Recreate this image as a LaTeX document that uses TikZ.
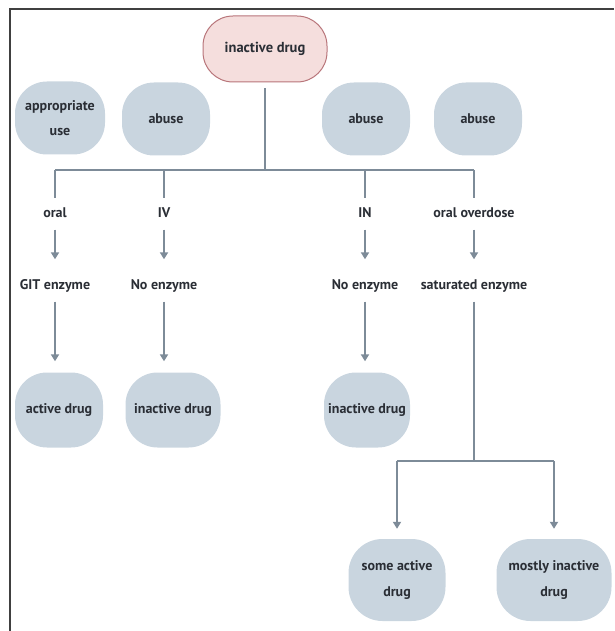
\documentclass[tikz,border=0pt]{standalone}
\usepackage{fontspec}
\setmainfont{PT Sans}
\usetikzlibrary{arrows.meta}

\definecolor{nodegray}{HTML}{C9D5DF}
\definecolor{linegray}{HTML}{7D8B98}
\definecolor{inkdark}{HTML}{2A2E35}
\definecolor{pinkfill}{HTML}{F5DEDD}
\definecolor{pinkline}{HTML}{B8757A}

\tikzset{
    drug/.style={rectangle, rounded corners=32pt, fill=nodegray, text=inkdark,
        minimum width=88pt, minimum height=74pt, align=center,
        font=\bfseries\fontsize{14}{25}\selectfont},
    route/.style={text=inkdark, inner xsep=2pt, inner ysep=9pt,
        text height=10pt, text depth=3pt,
        font=\bfseries\fontsize{14}{16}\selectfont},
    link/.style={draw=linegray, line width=2.6pt},
    arr/.style={link, -{Triangle[length=7pt,width=8pt]}, shorten >=11pt},
}

\begin{document}
\begin{tikzpicture}[x=1pt, y=-1pt]
    \useasboundingbox (0,0) rectangle (614,631);
    \pgfmathsetmacro\splitY{170};
    \pgfmathsetmacro\rowA{214};
    \pgfmathsetmacro\rowB{286};

    % frame
    \draw[black!75, line width=1.5pt] (10,631) -- (10,9) -- (614,9);

    % top
    \node[drug, fill=pinkfill, draw=pinkline, line width=1pt,
        minimum width=124pt, minimum height=66pt, rounded corners=30pt,
        font=\bfseries\fontsize{14.5}{16}\selectfont] (top) at (265,49) {inactive drug};

    \node[drug, minimum width=90pt, minimum height=73pt, inner xsep=1pt] (use) at (60,118) {appropriate\\use};
    \node[drug, minimum height=73pt] (abuseA) at (166,119) {abuse};
    \node[drug, minimum height=73pt] (abuseB) at (366,119) {abuse};
    \node[drug, minimum height=73pt] (abuseC) at (478,119) {abuse};

    % routes
    \node[route] (oral) at (55,\rowA) {oral};
    \node[route] (iv) at (164,\rowA) {IV};
    \node[route] (in) at (365,\rowA) {IN};
    \node[route] (over) at (474,\rowA) {oral overdose};

    \node[route] (git) at (55,\rowB) {GIT enzyme};
    \node[route] (noA) at (164,\rowB) {No enzyme};
    \node[route] (noB) at (365,\rowB) {No enzyme};
    \node[route] (sat) at (474,\rowB) {saturated enzyme};

    % results
    \node[drug, minimum height=75pt, inner xsep=1pt] (active) at (59,410) {active drug};
    \node[drug, minimum width=95pt, minimum height=75pt, inner xsep=1pt] (inactA) at (173,410) {inactive drug};
    \node[drug, minimum width=86pt, minimum height=75pt, inner xsep=1pt] (inactB) at (367,410) {inactive drug};
    \node[drug, minimum width=97pt, minimum height=82pt, rounded corners=34pt] (some) at (397,580) {some active\\drug};
    \node[drug, minimum width=115pt, minimum height=82pt, rounded corners=34pt, inner xsep=1pt] (mostly) at (554,580) {mostly inactive\\drug};

    \coordinate (split) at (265,\splitY);
    \coordinate (split2) at (474,461);

    \draw[link] (top.south) ++(0,6) -- (split);
    \draw[link] (oral.north |- split) -- (over.north |- split);
    \foreach \r in {oral,iv,in,over}
        \draw[link] (\r.north |- split) -- (\r.north);
    \foreach \a/\b in {oral/git,iv/noA,in/noB,over/sat}
        \draw[arr] (\a.south) -- (\b.north);
    \foreach \a/\b in {git/active,noA/inactA,noB/inactB}
        \draw[arr] (\a.south) -- (\a.south |- \b.north);

    \draw[link] (sat.south) -- (split2);
    \draw[link] (some.north |- split2) -- (mostly.north |- split2);
    \foreach \b in {some,mostly}
        \draw[arr, shorten >=10pt] (\b.north |- split2) -- (\b.north);
\end{tikzpicture}
\end{document}
